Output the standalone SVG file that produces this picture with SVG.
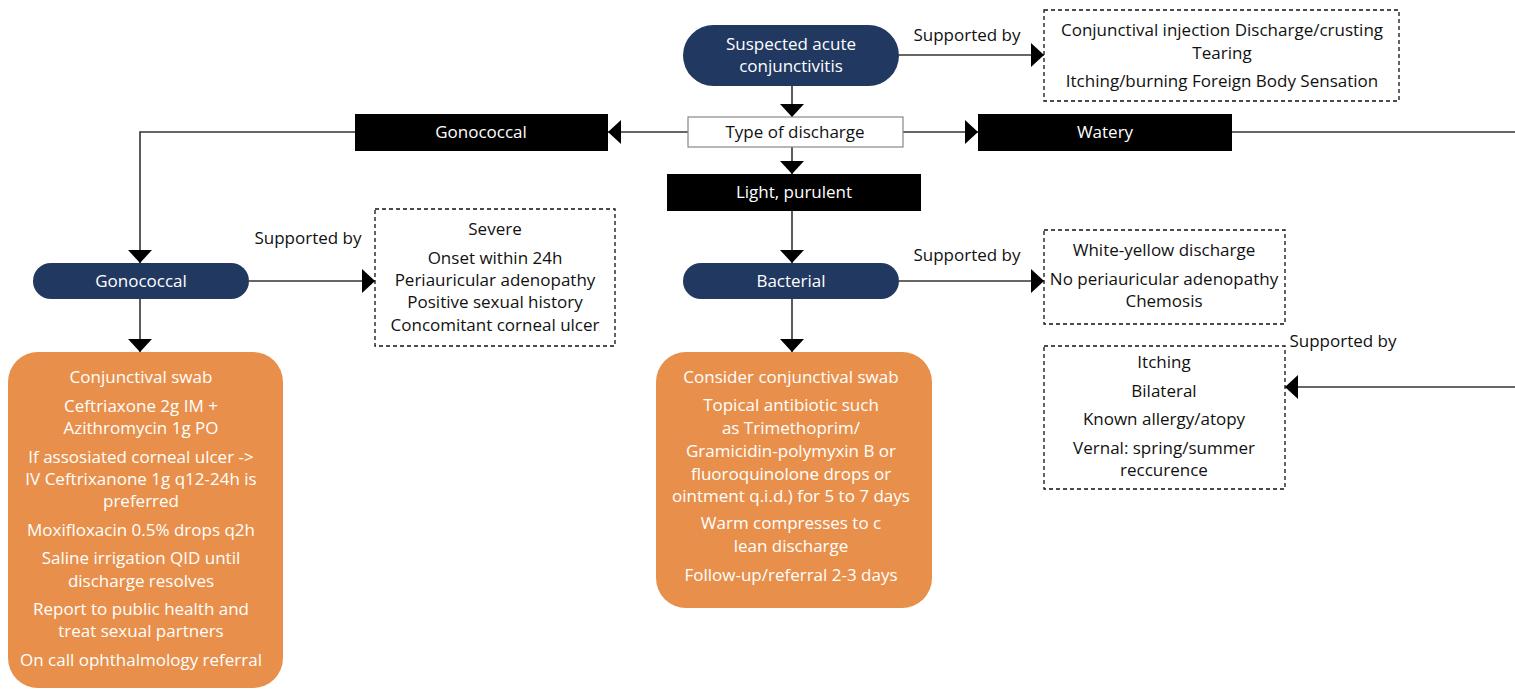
<svg xmlns="http://www.w3.org/2000/svg" width="1515" height="690" viewBox="0 0 1515 690">
<defs>
<style>
text{font-family:"Open Sans","Liberation Sans",sans-serif;font-size:17px;text-anchor:middle}
.w{fill:#fff}
.k{fill:#111}
.pill{fill:#213861}
.blk{fill:#000}
.org{fill:#e8904b}
.dash{fill:#fff;stroke:#111;stroke-width:1.3;stroke-dasharray:4 3}
.con{fill:none;stroke:#333;stroke-width:1.6}
</style>
<marker id="ah" viewBox="0 0 13 24" refX="13" refY="12" markerWidth="13" markerHeight="24" markerUnits="userSpaceOnUse" orient="auto">
<path d="M0 0L13 12L0 24Z" fill="#000"/>
</marker>
</defs>
<rect width="1515" height="690" fill="#fff"/>

<g id="connectors">
<path class="con" d="M792 86V117" marker-end="url(#ah)"/>
<path class="con" d="M688 132H608" marker-end="url(#ah)"/>
<path class="con" d="M903 132H978" marker-end="url(#ah)"/>
<path class="con" d="M792 147V174" marker-end="url(#ah)"/>
<path class="con" d="M355 132H140V263" marker-end="url(#ah)"/>
<path class="con" d="M792 211V263" marker-end="url(#ah)"/>
<path class="con" d="M1232 132H1515"/>
<path class="con" d="M1515 387H1285" marker-end="url(#ah)"/>
<path class="con" d="M899 55H1044" marker-end="url(#ah)"/>
<path class="con" d="M249 281H375" marker-end="url(#ah)"/>
<path class="con" d="M899 281H1044" marker-end="url(#ah)"/>
<path class="con" d="M140 299V352" marker-end="url(#ah)"/>
<path class="con" d="M792 299V352" marker-end="url(#ah)"/>
<text class="k" x="967" y="41">Supported by</text>
<text class="k" x="308" y="244">Supported by</text>
<text class="k" x="967" y="261">Supported by</text>
<text class="k" x="1343" y="347">Supported by</text>
</g>

<g id="start">
<rect class="pill" x="683" y="25" width="216" height="61" rx="30.5"/>
<text class="w" x="791" y="50">Suspected acute</text>
<text class="w" x="791" y="72">conjunctivitis</text>
</g>

<g id="type">
<rect x="688" y="117" width="215" height="30" fill="#fff" stroke="#888" stroke-width="1.2"/>
<text class="k" x="795" y="138">Type of discharge</text>
</g>

<g id="gono-type">
<rect class="blk" x="355" y="114" width="253" height="37"/>
<text class="w" x="481" y="138">Gonococcal</text>
</g>

<g id="watery">
<rect class="blk" x="978" y="114" width="254" height="37"/>
<text class="w" x="1105" y="138">Watery</text>
</g>

<g id="light">
<rect class="blk" x="667" y="174" width="254" height="37"/>
<text class="w" x="794" y="198">Light, purulent</text>
</g>

<g id="gono">
<rect class="pill" x="33" y="263" width="216" height="36" rx="18"/>
<text class="w" x="141" y="287">Gonococcal</text>
</g>

<g id="bact">
<rect class="pill" x="683" y="263" width="216" height="36" rx="18"/>
<text class="w" x="791" y="287">Bacterial</text>
</g>

<g id="sup-top">
<rect class="dash" x="1044" y="10" width="355" height="91"/>
<text class="k" x="1222" y="36">Conjunctival injection Discharge/crusting</text>
<text class="k" x="1222" y="59">Tearing</text>
<text class="k" x="1222" y="87">Itching/burning Foreign Body Sensation</text>
</g>

<g id="sup-gono">
<rect class="dash" x="375" y="209" width="240" height="137"/>
<text class="k" x="495" y="235">Severe</text>
<text class="k" x="495" y="264">Onset within 24h</text>
<text class="k" x="495" y="286">Periauricular adenopathy</text>
<text class="k" x="495" y="308">Positive sexual history</text>
<text class="k" x="495" y="331">Concomitant corneal ulcer</text>
</g>

<g id="sup-bact">
<rect class="dash" x="1044" y="230" width="241" height="94"/>
<text class="k" x="1164" y="256">White-yellow discharge</text>
<text class="k" x="1164" y="285">No periauricular adenopathy</text>
<text class="k" x="1164" y="307">Chemosis</text>
</g>

<g id="sup-allergy">
<rect class="dash" x="1044" y="346" width="241" height="143"/>
<text class="k" x="1164" y="368">Itching</text>
<text class="k" x="1164" y="397">Bilateral</text>
<text class="k" x="1164" y="425">Known allergy/atopy</text>
<text class="k" x="1164" y="454">Vernal: spring/summer</text>
<text class="k" x="1164" y="476">reccurence</text>
</g>

<g id="tx-gono">
<rect class="org" x="8" y="352" width="275" height="336" rx="30"/>
<text class="w" x="141" y="383">Conjunctival swab</text>
<text class="w" x="141" y="412">Ceftriaxone 2g IM +</text>
<text class="w" x="141" y="434">Azithromycin 1g PO</text>
<text class="w" x="141" y="463">If assosiated corneal ulcer -&gt;</text>
<text class="w" x="141" y="485">IV Ceftrixanone 1g q12-24h is</text>
<text class="w" x="141" y="507">preferred</text>
<text class="w" x="141" y="536">Moxifloxacin 0.5% drops q2h</text>
<text class="w" x="141" y="564">Saline irrigation QID until</text>
<text class="w" x="141" y="587">discharge resolves</text>
<text class="w" x="141" y="615">Report to public health and</text>
<text class="w" x="141" y="637">treat sexual partners</text>
<text class="w" x="141" y="666">On call ophthalmology referral</text>
</g>

<g id="tx-bact">
<rect class="org" x="656" y="352" width="276" height="256" rx="30"/>
<text class="w" x="791" y="383">Consider conjunctival swab</text>
<text class="w" x="791" y="411">Topical antibiotic such</text>
<text class="w" x="791" y="434">as Trimethoprim/</text>
<text class="w" x="791" y="457">Gramicidin-polymyxin B or</text>
<text class="w" x="791" y="480">fluoroquinolone drops or</text>
<text class="w" x="791" y="502">ointment q.i.d.) for 5 to 7 days</text>
<text class="w" x="791" y="529">Warm compresses to c</text>
<text class="w" x="791" y="552">lean discharge</text>
<text class="w" x="791" y="581">Follow-up/referral 2-3 days</text>
</g>
</svg>
